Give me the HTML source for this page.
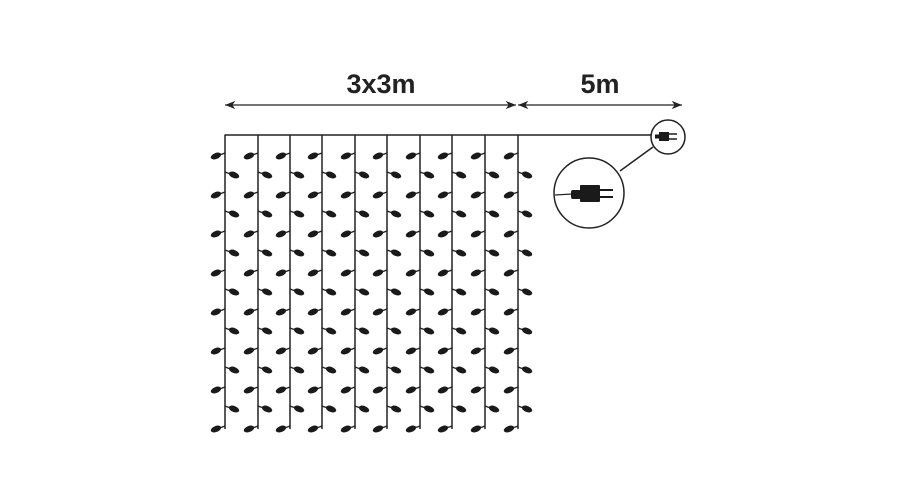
<!DOCTYPE html>
<html><head><style>body{margin:0;background:#fff}svg{display:block}</style></head><body>
<svg width="900" height="500" viewBox="0 0 900 500" xmlns="http://www.w3.org/2000/svg">
<defs>
<g id="L"><line x1="0" y1="0" x2="-4" y2="1.5" stroke="#222" stroke-width="1.3"/><ellipse cx="-9" cy="3" rx="5.5" ry="3" transform="rotate(-22 -9 3)" fill="#1a1a1a"/></g>
<g id="R"><line x1="0" y1="0" x2="4" y2="1.5" stroke="#222" stroke-width="1.3"/><ellipse cx="9" cy="3" rx="5.5" ry="3" transform="rotate(22 9 3)" fill="#1a1a1a"/></g>
<g id="C">
<line x1="0" y1="135" x2="0" y2="429" stroke="#222" stroke-width="1.5"/>
<use href="#L" x="0" y="153"/><use href="#L" x="0" y="192"/><use href="#L" x="0" y="231"/><use href="#L" x="0" y="270"/>
<use href="#L" x="0" y="309"/><use href="#L" x="0" y="348"/><use href="#L" x="0" y="387"/><use href="#L" x="0" y="426"/>
<use href="#R" x="0" y="172"/><use href="#R" x="0" y="211"/><use href="#R" x="0" y="250"/><use href="#R" x="0" y="289"/>
<use href="#R" x="0" y="328"/><use href="#R" x="0" y="367"/><use href="#R" x="0" y="406"/>
</g>
<marker id="a" viewBox="0 0 10 10" refX="10" refY="5" markerWidth="8" markerHeight="8" orient="auto-start-reverse"><path d="M0,1 L10,5 L0,9 L3,5Z" fill="#222"/></marker>
</defs>
<text x="381" y="93" font-family="Liberation Sans, sans-serif" font-weight="bold" font-size="27" text-anchor="middle" fill="#222">3x3m</text>
<text x="600" y="93" font-family="Liberation Sans, sans-serif" font-weight="bold" font-size="27" text-anchor="middle" fill="#222">5m</text>
<line x1="225" y1="105" x2="516" y2="105" stroke="#222" stroke-width="1.3" marker-start="url(#a)" marker-end="url(#a)"/>
<line x1="518" y1="105" x2="682" y2="105" stroke="#222" stroke-width="1.3" marker-start="url(#a)" marker-end="url(#a)"/>
<line x1="224.5" y1="135" x2="655" y2="135" stroke="#222" stroke-width="1.5"/>
<use href="#C" x="225"/><use href="#C" x="258"/><use href="#C" x="290"/><use href="#C" x="322"/><use href="#C" x="355"/>
<use href="#C" x="387"/><use href="#C" x="420"/><use href="#C" x="452"/><use href="#C" x="485"/><use href="#C" x="518"/>
<circle cx="668" cy="137" r="17" fill="#fff" stroke="#222" stroke-width="1.5"/>
<rect x="659" y="132" width="10" height="9" fill="#1a1a1a"/><rect x="655" y="134.5" width="5" height="4" fill="#1a1a1a"/>
<line x1="669" y1="134" x2="677" y2="134" stroke="#1a1a1a" stroke-width="1.5"/><line x1="669" y1="139" x2="677" y2="139" stroke="#1a1a1a" stroke-width="1.5"/>
<line x1="653" y1="147" x2="620" y2="171" stroke="#222" stroke-width="1.5"/>
<circle cx="589" cy="193" r="35" fill="#fff" stroke="#222" stroke-width="1.5"/>
<line x1="555" y1="195" x2="572" y2="194" stroke="#222" stroke-width="1.3"/>
<rect x="571" y="190" width="10" height="9" rx="2" fill="#1a1a1a"/><rect x="580" y="185" width="20" height="17" rx="1" fill="#1a1a1a"/>
<line x1="600" y1="190" x2="613" y2="190" stroke="#1a1a1a" stroke-width="2"/><line x1="600" y1="197" x2="613" y2="197" stroke="#1a1a1a" stroke-width="2"/>
</svg>
</body></html>
